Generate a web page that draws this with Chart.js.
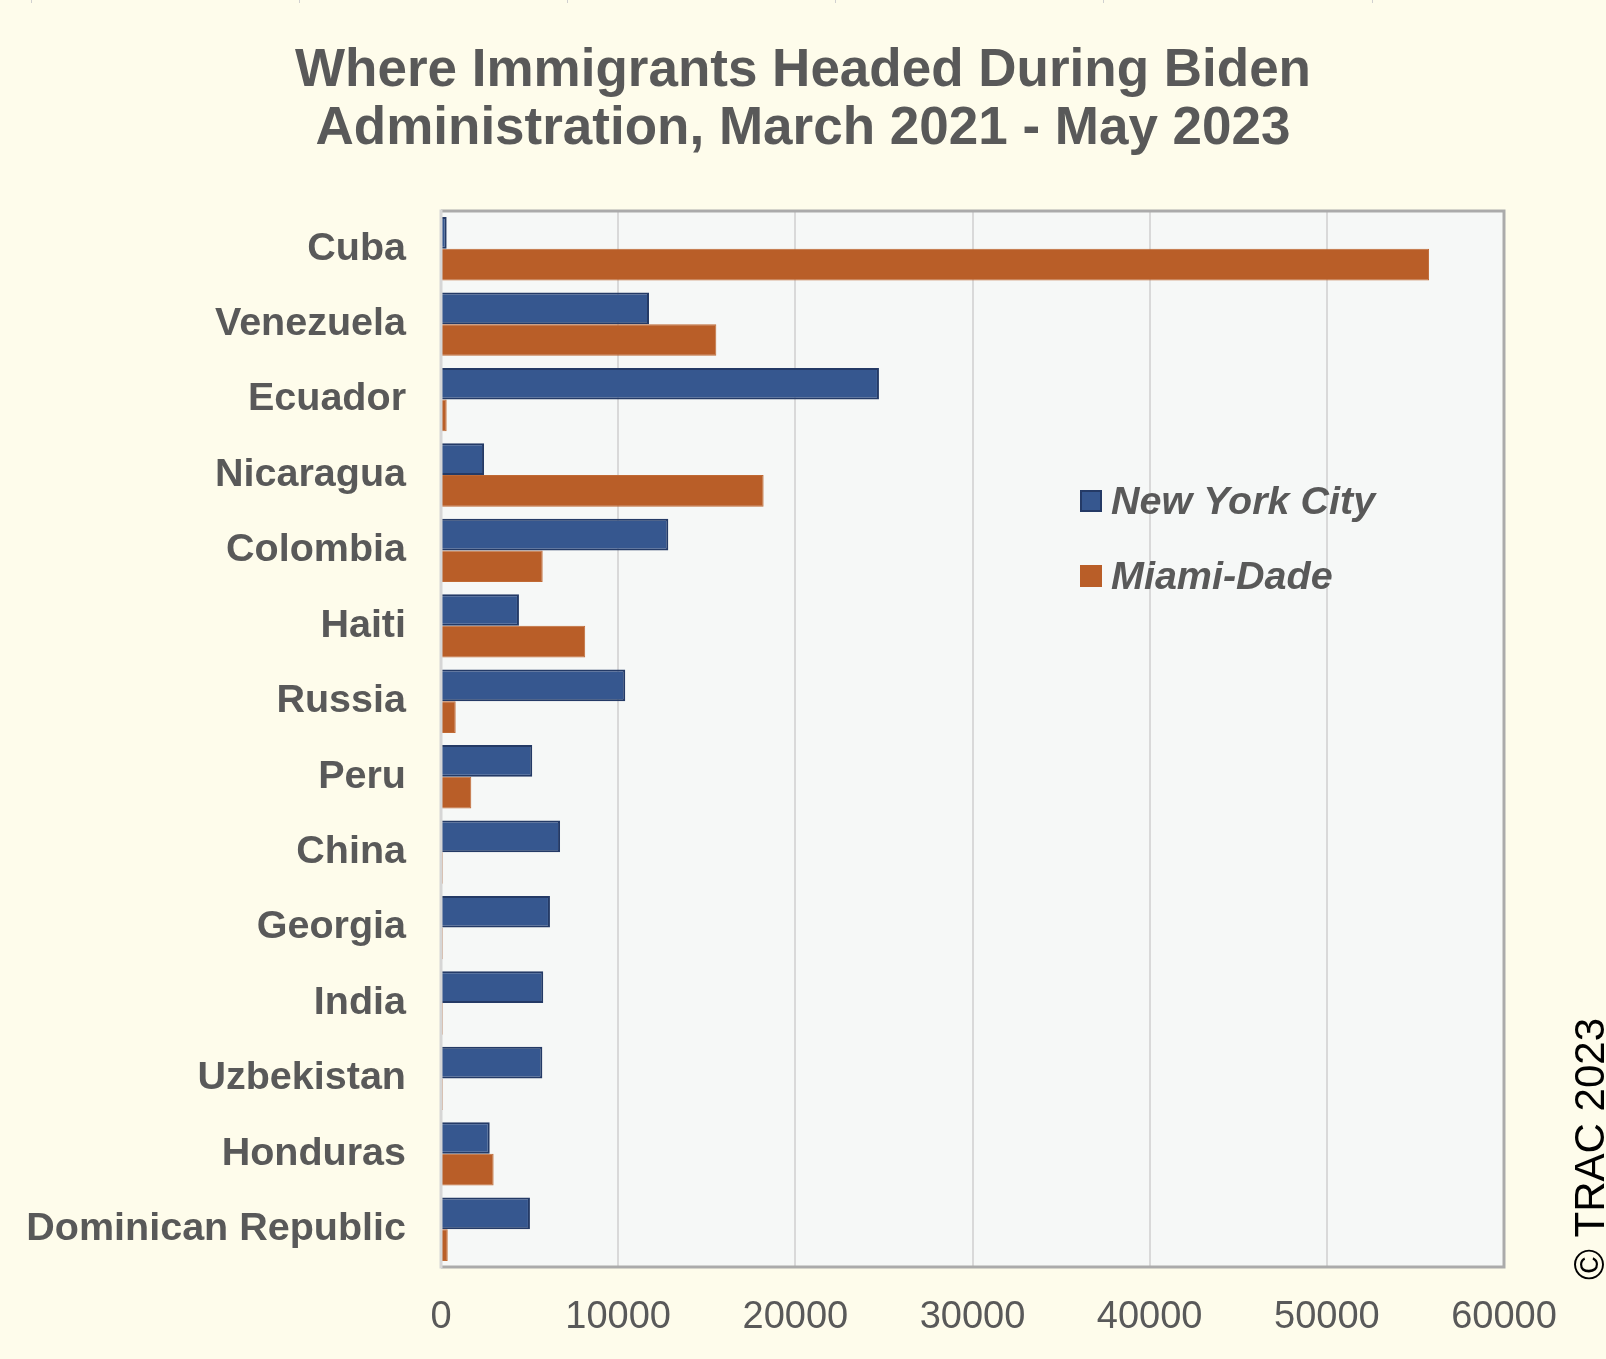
<!DOCTYPE html>
<html>
<head>
<meta charset="utf-8">
<script src="https://cdn.jsdelivr.net/npm/chart.js@4.4.0/dist/chart.umd.min.js"></script>
<style>
  html, body { margin: 0; padding: 0; background: #fefceb; }
  #wrap { position: relative; width: 1606px; height: 1359px; }
  canvas { display: block; }
</style>
</head>
<body>
<div id="wrap"><canvas id="c" width="1606" height="1359"></canvas></div>
<script>
const titleLines = ['Where Immigrants Headed During Biden', 'Administration, March 2021 - May 2023'];
const categories = ['Cuba', 'Venezuela', 'Ecuador', 'Nicaragua', 'Colombia', 'Haiti', 'Russia', 'Peru', 'China', 'Georgia', 'India', 'Uzbekistan', 'Honduras', 'Dominican Republic'];
const seriesNames = ['New York City', 'Miami-Dade'];
const nycValues = [320, 11740, 24720, 2430, 12830, 4400, 10400, 5150, 6720, 6150, 5770, 5720, 2750, 5020];
const miamiValues = [55770, 15540, 320, 18210, 5740, 8140, 830, 1710, 100, 100, 100, 100, 2970, 380];
const xTicks = [0, 10000, 20000, 30000, 40000, 50000, 60000];
const creditText = '\u00A9 TRAC 2023';

const TEXT = '#595959';
const BLUE = '#36578f';
const BLUE_EDGE = '#243a66';
const ORANGE = '#b95e28';
const FONT = '"Liberation Sans", Arial, sans-serif';

const decorPlugin = {
  id: 'decor',
  beforeDraw(chart) {
    const { ctx, chartArea: a } = chart;
    ctx.save();
    ctx.fillStyle = '#f6f8f7';
    ctx.fillRect(a.left, a.top, a.right - a.left, a.bottom - a.top);
    ctx.strokeStyle = '#d0d0d0';
    ctx.lineWidth = 1;
    [31, 299, 567, 835, 1103, 1372].forEach(x => {
      ctx.beginPath(); ctx.moveTo(x + 0.5, 0); ctx.lineTo(x + 0.5, 3); ctx.stroke();
    });
    // title
    ctx.fillStyle = TEXT;
    ctx.font = 'bold 53px ' + FONT;
    ctx.textAlign = 'center';
    ctx.textBaseline = 'middle';
    titleLines.forEach((t, i) => ctx.fillText(t, 803, 71 + i * 58.6));
    ctx.restore();
  },
  afterDraw(chart) {
    const { ctx, chartArea: a } = chart;
    ctx.save();
    ctx.strokeStyle = '#ababab';
    ctx.lineWidth = 3;
    ctx.beginPath();
    ctx.moveTo(a.left, a.top);
    ctx.lineTo(a.right, a.top);
    ctx.lineTo(a.right, a.bottom);
    ctx.lineTo(a.left, a.bottom);
    ctx.stroke();
    ctx.strokeStyle = '#d6d6d6';
    ctx.beginPath();
    ctx.moveTo(a.left, a.top - 1.5);
    ctx.lineTo(a.left, a.bottom + 1.5);
    ctx.stroke();

    const lx = a.left + 639, ly = a.top + 290, gap = 75;
    ctx.font = 'italic bold 39.5px ' + FONT;
    ctx.textBaseline = 'middle';
    ctx.textAlign = 'left';
    chart.data.datasets.forEach((ds, i) => {
      const y = ly + i * gap;
      ctx.fillStyle = ds.backgroundColor;
      ctx.fillRect(lx, y - 11, 22, 22);
      if (i === 0) {
        ctx.strokeStyle = BLUE_EDGE; ctx.lineWidth = 2;
        ctx.strokeRect(lx + 1, y - 10, 20, 20);
      }
      ctx.fillStyle = TEXT;
      ctx.fillText(ds.label, lx + 31, y + 2);
    });

    ctx.translate(1592, 1149);
    ctx.rotate(-Math.PI / 2);
    ctx.font = '42px ' + FONT;
    ctx.fillStyle = '#000000';
    ctx.textAlign = 'center';
    ctx.textBaseline = 'middle';
    ctx.fillText(creditText, 0, 0);
    ctx.restore();
  }
};

new Chart(document.getElementById('c'), {
  type: 'bar',
  data: {
    labels: categories,
    datasets: [
      { label: seriesNames[0], data: nycValues, backgroundColor: BLUE, borderColor: BLUE_EDGE, borderWidth: 2, borderSkipped: 'start' },
      { label: seriesNames[1], data: miamiValues, backgroundColor: ORANGE, borderColor: '#c06a35', borderWidth: 1, borderSkipped: 'start' }
    ]
  },
  options: {
    indexAxis: 'y',
    responsive: false,
    animation: false,
    devicePixelRatio: 1,
    datasets: { bar: { categoryPercentage: 0.84, barPercentage: 1.0 } },
    layout: { padding: { left: 0, right: 102, top: 211, bottom: 0 } },
    plugins: {
      legend: { display: false },
      tooltip: { enabled: false },
      title: { display: false }
    },
    scales: {
      x: {
        min: 0, max: 60000,
        afterBuildTicks(scale) { scale.ticks = xTicks.map(v => ({ value: v })); },
        afterFit(scale) { scale.height = 92; },
        grid: { color: '#d9d9d9', lineWidth: 2, drawTicks: false },
        border: { display: false },
        ticks: {
          color: TEXT,
          padding: 28,
          maxRotation: 0,
          font: { family: FONT, size: 38 },
          callback: v => String(v)
        }
      },
      y: {
        afterFit(scale) { scale.width = 441; },
        grid: { display: false, drawTicks: false },
        border: { display: false },
        ticks: {
          color: TEXT,
          padding: 35,
          autoSkip: false,
          font: { family: FONT, size: 39.5, weight: 'bold' }
        }
      }
    }
  },
  plugins: [decorPlugin]
});
</script>
</body>
</html>
